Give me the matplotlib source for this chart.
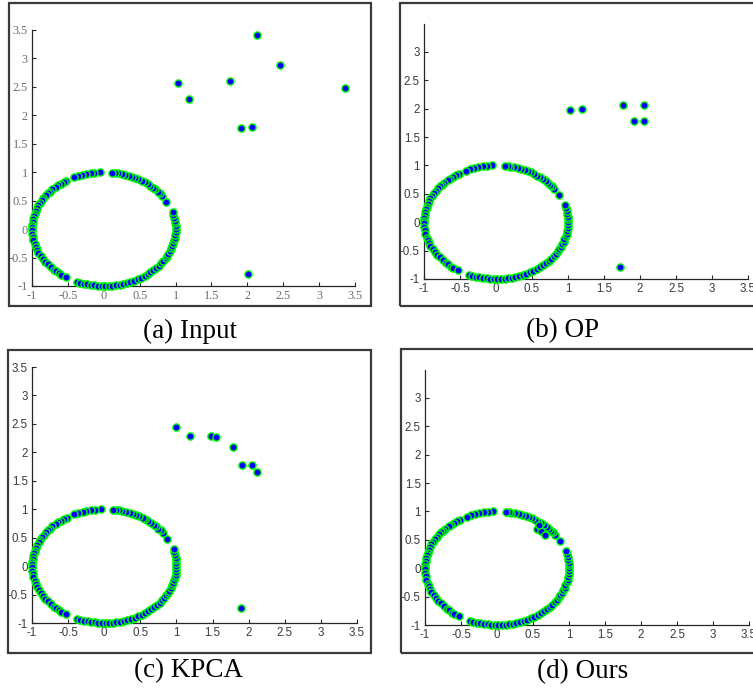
import matplotlib
matplotlib.use("Agg")
import matplotlib.pyplot as plt
from matplotlib.patches import Rectangle
from matplotlib.ticker import FixedLocator, FuncFormatter

# ---- data: ring points (shared by all panels) ----
ring_x = [-0.05, -0.13, -0.18, -0.25, -0.30, -0.36, -0.42,
          -0.52, -0.56, -0.60, -0.64, -0.67, -0.72, -0.75, -0.78, -0.80, -0.84, -0.86, -0.89,
          -0.91, -0.93, -0.95, -0.96, -0.97, -0.98, -0.99, -1.00, -1.00, -1.00, -0.995, -0.99,
          -0.98, -0.96, -0.95, -0.93, -0.91, -0.88, -0.85, -0.82, -0.78, -0.74, -0.70, -0.67,
          -0.63, -0.60, -0.53,
          -0.38, -0.33, -0.28, -0.23, -0.18, -0.13, -0.08, -0.03, 0.02, 0.07, 0.12, 0.17, 0.22,
          0.27, 0.32, 0.37, 0.42, 0.47, 0.52, 0.57, 0.61, 0.65, 0.69, 0.73, 0.77, 0.80, 0.83,
          0.86, 0.88, 0.90, 0.92, 0.94, 0.95, 0.97, 0.98, 0.99, 0.995, 1.00, 1.00, 1.00, 0.995,
          0.99, 0.98, 0.97, 0.96,
          0.87,
          0.81, 0.78, 0.75, 0.72, 0.69, 0.65, 0.61, 0.57, 0.53, 0.48, 0.44, 0.40, 0.35, 0.30,
          0.25, 0.20, 0.16, 0.12]
ring_y = [1.00, 0.99, 0.985, 0.97, 0.955, 0.94, 0.91,
          0.85, 0.83, 0.80, 0.77, 0.74, 0.70, 0.66, 0.63, 0.60, 0.55, 0.51, 0.46,
          0.42, 0.37, 0.32, 0.27, 0.23, 0.18, 0.13, 0.08, 0.03, -0.02, -0.08, -0.13,
          -0.20, -0.27, -0.32, -0.37, -0.42, -0.47, -0.53, -0.57, -0.62, -0.67, -0.71, -0.74,
          -0.78, -0.80, -0.85,
          -0.93, -0.945, -0.96, -0.97, -0.985, -0.99, -0.997, -1.00, -1.00, -1.00, -0.993, -0.985,
          -0.975, -0.963, -0.947, -0.93, -0.91, -0.88, -0.855, -0.82, -0.79, -0.76, -0.72, -0.68,
          -0.64, -0.60, -0.56, -0.51, -0.47, -0.43, -0.39, -0.34, -0.30, -0.25, -0.20, -0.15,
          -0.10, -0.05, 0.00, 0.05, 0.10, 0.15, 0.20, 0.25, 0.30,
          0.48,
          0.59, 0.63, 0.66, 0.70, 0.72, 0.76, 0.79, 0.82, 0.85, 0.88, 0.90, 0.92, 0.94, 0.955,
          0.97, 0.98, 0.99, 0.993]

# ---- data: outliers / extra points per panel ----
input_x = [1.03, 1.19, 1.76, 2.13, 2.46, 3.36, 1.91, 2.07, 2.01]
input_y = [2.56, 2.29, 2.61, 3.42, 2.88, 2.48, 1.78, 1.79, -0.79]

op_x = [1.03, 1.20, 1.76, 2.06, 1.91, 2.06, 1.72]
op_y = [1.97, 1.99, 2.06, 2.07, 1.78, 1.79, -0.79]

kpca_x = [0.99, 1.19, 1.48, 1.55, 1.78, 1.91, 2.05, 2.12, 1.90]
kpca_y = [2.44, 2.28, 2.29, 2.27, 2.10, 1.78, 1.78, 1.66, -0.74]

ours_x = [0.55, 0.61, 0.67, 0.58]
ours_y = [0.70, 0.66, 0.58, 0.76]

x_ticks = [-1, -0.5, 0, 0.5, 1, 1.5, 2, 2.5, 3, 3.5]
y_ticks_full = [-1, -0.5, 0, 0.5, 1, 1.5, 2, 2.5, 3, 3.5]
y_ticks_short = [-1, -0.5, 0, 0.5, 1, 1.5, 2, 2.5, 3]

captions = ["(a) Input", "(b) OP", "(c) KPCA", "(d) Ours"]

W, H = 753, 692
fig = plt.figure(figsize=(W / 100, H / 100), dpi=100)


def px_rect(x0, y0, x1, y1):
    # pixel box (top-left origin) -> figure fraction [left, bottom, width, height]
    return [x0 / W, (H - y1) / H, (x1 - x0) / W, (y1 - y0) / H]


def fmt(v, pos):
    return ("%g" % v)


panels = [
    dict(ax=(32, 30, 355, 286), frame=(9, 3, 371, 306), ex=input_x, ey=input_y,
         yt=y_ticks_full, font="Liberation Serif", tcol="#6e6e6e", fs=8.8, cap=(190, 331)),
    dict(ax=(424, 23.6, 748, 279), frame=(400, 3, 760, 306), ex=op_x, ey=op_y,
         yt=y_ticks_short, font="Liberation Sans", tcol="#3a3a3a", fs=8.3, cap=(563, 331)),
    dict(ax=(32, 367, 357, 623), frame=(8, 350, 371, 653), ex=kpca_x, ey=kpca_y,
         yt=y_ticks_full, font="Liberation Sans", tcol="#3a3a3a", fs=8.3, cap=(189, 671)),
    dict(ax=(425, 369.6, 749, 625), frame=(401, 349, 760, 653), ex=ours_x, ey=ours_y,
         yt=y_ticks_short, font="Liberation Sans", tcol="#3a3a3a", fs=8.3, cap=(583, 672)),
]

for i, p in enumerate(panels):
    fx0, fy0, fx1, fy1 = p["frame"]
    fig.patches.append(Rectangle((fx0 / W, (H - fy1) / H), (fx1 - fx0) / W, (fy1 - fy0) / H,
                                 transform=fig.transFigure, fill=False,
                                 edgecolor="#3a3a3a", linewidth=1.6, zorder=0))
    ax = fig.add_axes(px_rect(*p["ax"]))
    ax.set_xlim(-1, 3.5)
    ax.set_ylim(-1, 3.5)
    allx = ring_x + p["ex"]
    ally = ring_y + p["ey"]
    ax.plot(allx, ally, linestyle="none", marker="o", markersize=5.2,
            markerfacecolor="#0000ff", markeredgecolor="#00ff00", markeredgewidth=1.0,
            clip_on=False, zorder=3)
    for s in ["top", "right"]:
        ax.spines[s].set_visible(False)
    for s in ["left", "bottom"]:
        ax.spines[s].set_color("#262626")
        ax.spines[s].set_linewidth(0.9)
    ax.xaxis.set_major_locator(FixedLocator(x_ticks))
    ax.yaxis.set_major_locator(FixedLocator(p["yt"]))
    ax.xaxis.set_major_formatter(FuncFormatter(fmt))
    ax.yaxis.set_major_formatter(FuncFormatter(fmt))
    ax.tick_params(direction="in", length=3, width=0.8, color="#262626",
                   labelsize=p["fs"], labelcolor=p["tcol"], pad=3)
    for lab in ax.get_xticklabels() + ax.get_yticklabels():
        lab.set_fontfamily(p["font"])
    cx, cy = p["cap"]
    fig.text(cx / W, (H - cy) / H, captions[i], ha="center", va="center",
             fontsize=19.5, family="Liberation Serif", color="black")

fig.savefig("out.png", dpi=100)
